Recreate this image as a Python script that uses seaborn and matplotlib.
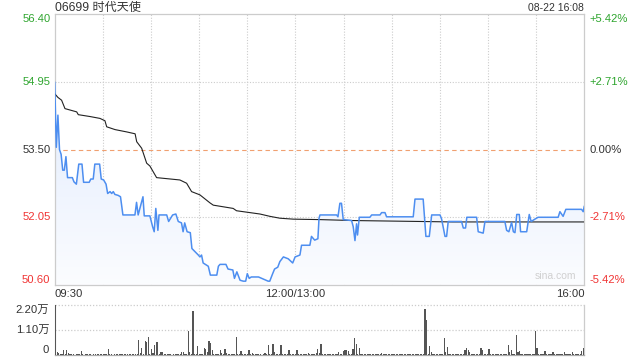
import numpy as np
import pandas as pd
import matplotlib
matplotlib.use("Agg")
import matplotlib.pyplot as plt
import seaborn as sns

# ---------------- data ----------------
title = "06699 时代天使"
stamp = "08-22 16:08"
prev_close = 53.50
price_ticks = [56.40, 54.95, 53.50, 52.05, 50.60]
pct_labels = ["+5.42%", "+2.71%", "0.00%", "-2.71%", "-5.42%"]
time_labels = ["09:30", "12:00/13:00", "16:00"]
vol_tick_labels = ["2.20万", "1.10万", "0"]

# minutes since 09:30 (lunch break removed), price
price_t = [0, 1, 2, 3, 4, 5, 6, 7, 8, 11, 12, 13.5, 15, 17, 18, 21.5, 22.5, 24, 25, 28, 29,
           30.5, 32, 33, 34.5, 35.5, 36.5, 37.5, 39.5, 41, 42.5, 50, 51, 52, 55, 55.8, 59.3,
           61, 62, 63, 64.3, 65, 69.8, 71, 73.5, 75.5, 77, 79, 80, 81, 82.5, 84.5, 85.5,
           87.5, 89.5, 90.5, 91.5, 92.5, 95.7, 97, 101, 102, 103, 106.7, 108, 111, 112,
           113.5, 115.5, 117.5, 119, 120, 121.2, 122.5, 127, 129, 133, 134, 135.8, 137,
           139, 140.3, 142.5, 145.5, 148.3, 149.8, 152.8, 153.8, 159, 160, 162, 164, 164.7,
           165.3, 175.7, 176.5, 177.7, 178.7, 179.8, 185, 186, 187.1, 188.1, 188.7, 189.8,
           196.4, 197.5, 202.7, 203.7, 205.8, 206.8, 223.4, 224.5, 229.6, 231.3, 233.4,
           234.9, 240.1, 241.1, 243.2, 244.2, 245.2, 253.5, 254.6, 256, 256.8, 262.9, 263.9,
           267, 268.1, 280.5, 281.6, 283, 284.7, 285.8, 286.8, 287.9, 289.5, 290.3, 294.1,
           295.7, 296.9, 299.2, 301.2, 313.7, 314.8, 316.8, 318.5, 328.3, 329.3, 330]
price_v = [54.95, 53.55, 54.24, 53.50, 53.40, 53.06, 53.06, 53.35, 52.90, 52.90, 52.81, 52.76,
           53.19, 53.19, 52.80, 52.80, 52.87, 52.87, 53.19, 53.19, 52.87, 52.85, 52.76, 52.56,
           52.60, 52.56, 52.60, 52.54, 52.52, 52.49, 52.10, 52.10, 52.37, 52.10, 52.49, 52.08,
           52.08, 51.85, 51.74, 52.24, 51.77, 52.10, 52.10, 51.96, 52.10, 52.12, 51.96, 51.93,
           51.74, 51.93, 51.74, 51.72, 51.38, 51.31, 51.24, 51.20, 51.24, 51.07, 51.00, 50.81,
           50.81, 51.00, 51.04, 51.04, 50.94, 50.92, 50.74, 50.88, 50.70, 50.68, 50.68, 50.84,
           50.74, 50.77, 50.77, 50.74, 50.68, 50.68, 50.84, 50.94, 50.98, 51.10, 51.20, 51.16,
           51.07, 51.20, 51.24, 51.45, 51.45, 51.64, 51.56, 51.59, 52.03,
           52.10, 52.10, 52.06, 52.35, 52.35, 52.00, 51.98, 51.85, 51.55, 51.91, 51.67, 52.05,
           52.05, 52.10, 52.10, 52.15, 52.15, 52.06, 52.06, 52.44, 52.44, 51.64, 51.64,
           52.10, 52.10, 52.01, 51.64, 51.64, 51.96, 51.96, 51.82, 51.82, 52.05, 52.05, 51.74,
           51.71, 51.96, 51.96, 51.77, 51.74, 51.94, 51.74, 51.72, 52.11, 52.11, 51.74, 51.74,
           52.11, 51.96, 52.01, 52.05, 52.05, 52.17, 52.07, 52.22, 52.22, 52.17, 52.29]

avg_t = [0, 2, 4.3, 6.4, 13.7, 14.7, 22, 28.2, 31.3, 32.4, 37.6, 44.9, 50.1, 51.1, 54.2,
         57.3, 59.3, 63.5, 78, 82.2, 85.3, 90.5, 96.7, 98.8, 111.2, 113.3, 127.9, 134.1,
         140.3, 148.6, 165.3, 186, 248, 330]
avg_v = [54.70, 54.62, 54.56, 54.38, 54.31, 54.25, 54.21, 54.17, 54.12, 53.99, 53.93, 53.88,
         53.84, 53.67, 53.53, 53.21, 53.15, 52.90, 52.85, 52.78, 52.60, 52.53, 52.36, 52.31,
         52.24, 52.19, 52.12, 52.07, 52.03, 52.01, 52.00, 51.98, 51.95, 51.95]

# per-minute volume, unit 万 (10k shares), minutes 0..330
volume = [
    2.40, 0.15, 0.07, 0.03, 0.04, 0.22, 0.06, 0.22, 0.10, 0.04,
    0.03, 0.04, 0.02, 0.03, 0.04, 0.03, 0.18, 0.03, 0.02, 0.04,
    0.03, 0.05, 0.03, 0.02, 0.04, 0.03, 0.06, 0.04, 0.03, 0.05,
    0.04, 0.03, 0.06, 0.25, 0.04, 0.03, 0.02, 0.04, 0.03, 0.05,
    0.03, 0.04, 0.06, 0.03, 0.05, 0.04, 0.03, 0.04, 0.05, 0.03,
    0.04, 0.05, 0.66, 0.10, 0.32, 0.05, 0.62, 0.59, 0.79, 0.05,
    0.25, 0.10, 0.44, 0.57, 0.57, 0.05, 0.12, 0.12, 0.04, 0.03,
    0.05, 0.03, 0.04, 0.02, 0.03, 0.04, 0.03, 0.05, 0.04, 0.12,
    0.15, 0.04, 0.03, 1.06, 0.12, 0.04, 1.94, 0.05, 0.04, 0.40,
    0.05, 0.04, 0.06, 0.29, 0.25, 0.15, 0.62, 0.54, 0.22, 0.05,
    0.04, 0.03, 0.05, 0.22, 0.10, 0.04, 0.26, 0.10, 0.04, 0.03,
    0.04, 0.05, 0.03, 0.79, 0.05, 0.04, 0.18, 0.04, 0.03, 0.05,
    0.04, 0.22, 0.06, 0.10, 0.04, 0.03, 0.05, 0.04, 0.03, 0.02,
    0.04, 0.10, 0.03, 0.44, 0.05, 0.04, 0.48, 0.15, 0.04, 0.03,
    0.05, 0.44, 0.04, 0.03, 0.05, 0.04, 0.22, 0.04, 0.03, 0.05,
    0.04, 0.22, 0.05, 0.04, 0.03, 0.05, 0.04, 0.03, 0.10, 0.04,
    0.05, 0.03, 0.04, 0.10, 0.26, 0.10, 0.48, 0.04, 0.05, 0.03,
    0.04, 0.05, 0.03, 0.04, 0.05, 0.03, 0.04, 0.15, 0.04, 0.05,
    0.18, 0.22, 0.22, 0.18, 0.04, 0.05, 0.26, 0.76, 0.48, 0.05,
    0.31, 0.04, 0.05, 0.03, 0.04, 0.05, 0.04, 0.03, 0.05, 0.04,
    0.03, 0.05, 0.04, 0.03, 0.10, 0.04, 0.05, 0.03, 0.04, 0.03,
    0.05, 0.04, 0.03, 0.04, 0.05, 0.03, 0.04, 0.05, 0.03, 0.04,
    0.05, 0.04, 0.03, 0.05, 0.04, 0.03, 0.04, 0.05, 0.03, 0.04,
    0.05, 2.02, 1.54, 0.05, 0.40, 0.13, 0.04, 0.03, 0.05, 0.04,
    0.03, 0.05, 0.04, 0.75, 0.13, 0.35, 0.04, 0.05, 0.03, 0.04,
    0.05, 0.03, 0.04, 0.05, 0.04, 0.03, 0.22, 0.31, 0.22, 0.13,
    0.04, 0.05, 0.03, 0.04, 0.05, 0.04, 0.29, 0.22, 0.04, 0.05,
    0.03, 0.26, 0.04, 0.05, 0.03, 0.04, 0.05, 0.03, 0.04, 0.05,
    0.04, 0.03, 0.05, 0.44, 0.13, 0.22, 0.04, 0.05, 0.88, 0.13,
    0.18, 0.04, 0.05, 0.03, 0.04, 0.05, 0.03, 0.04, 0.05, 0.04,
    1.06, 0.31, 0.05, 0.04, 0.03, 0.05, 0.18, 0.04, 0.03, 0.05,
    0.04, 0.13, 0.03, 0.05, 0.04, 0.03, 0.05, 0.04, 0.13, 0.03,
    0.05, 0.04, 0.03, 0.13, 0.04, 0.05, 0.03, 0.04, 0.05, 0.18,
    0.29,
]

# ---------------- style ----------------
sns.set_theme(style="white")
FONT = ["Liberation Sans", "Noto Sans CJK SC", "DejaVu Sans"]
plt.rcParams["font.family"] = FONT
plt.rcParams["font.size"] = 7.5
TICK_FS = 8.1

GREEN = "#2ea52e"
RED = "#f03333"
GRID = "#cccccc"
TXT = "#333333"
BLUE = "#4d8ef0"

fig = plt.figure(figsize=(6.4, 3.6), dpi=100)
ax = fig.add_axes([54.7 / 640, 1 - 284.9 / 360, (584.3 - 54.7) / 640, (284.9 - 14.4) / 360])
axv = fig.add_axes([54.7 / 640, 1 - 355 / 360, (584.3 - 54.7) / 640, 50 / 360])

df_p = pd.DataFrame({"t": price_t, "price": price_v})
df_a = pd.DataFrame({"t": avg_t, "avg": avg_v})

ax.set_xlim(0, 330)
ax.set_ylim(price_ticks[-1], price_ticks[0])

# gradient fill under the price line
poly = ax.fill_between(df_p["t"], df_p["price"], price_ticks[-1], color="none", lw=0)
grad = np.linspace(0, 1, 256).reshape(-1, 1)
top_c = np.array([0.85, 0.90, 0.99])
bot_c = np.array([0.985, 0.99, 1.0])
img = top_c * (1 - grad[..., None]) + bot_c * grad[..., None]
im = ax.imshow(img, extent=[0, 330, price_ticks[-1], price_ticks[0]], aspect="auto",
               origin="upper", zorder=1)
im.set_clip_path(poly.get_paths()[0], transform=ax.transData)

# grid
for xv in range(30, 330, 30):
    ax.axvline(xv, color=GRID, lw=0.8, ls=(0, (1, 1.5)), zorder=0.5)
for yv in [price_ticks[1], price_ticks[3]]:
    ax.axhline(yv, color=GRID, lw=0.8, ls=(0, (1, 1.5)), zorder=0.5)
ax.axhline(prev_close, color="#f0a070", lw=0.8, ls=(0, (4, 3)), zorder=0.6)

sns.lineplot(data=df_a, x="t", y="avg", ax=ax, color="#222222", lw=0.8, zorder=3)
sns.lineplot(data=df_p, x="t", y="price", ax=ax, color=BLUE, lw=1.1, zorder=4)

ax.set_xlabel("")
ax.set_ylabel("")
for s in ax.spines.values():
    s.set_color(GRID)
    s.set_linewidth(0.9)

ax.set_yticks(price_ticks)
ax.set_yticklabels([f"{p:.2f}" for p in price_ticks])
ax.tick_params(axis="y", length=0, pad=3, labelsize=TICK_FS)
colors_l = [GREEN, GREEN, TXT, RED, RED]
for lbl, c, va in zip(ax.get_yticklabels(), colors_l, ["top", "center", "center", "center", "bottom"]):
    lbl.set_color(c)
    lbl.set_verticalalignment(va)

ax.set_xticks([0, 150, 330])
ax.set_xticklabels(time_labels)
ax.tick_params(axis="x", length=0, pad=3, colors=TXT, labelsize=TICK_FS)
for lbl, ha in zip(ax.get_xticklabels(), ["left", "center", "right"]):
    lbl.set_horizontalalignment(ha)

ax2 = ax.twinx()
ax2.set_ylim(ax.get_ylim())
ax2.set_yticks(price_ticks)
ax2.set_yticklabels(pct_labels)
ax2.tick_params(axis="y", length=0, pad=4, labelsize=TICK_FS)
for lbl, c, va in zip(ax2.get_yticklabels(), colors_l, ["top", "center", "center", "center", "bottom"]):
    lbl.set_color(c)
    lbl.set_verticalalignment(va)
for s in ax2.spines.values():
    s.set_visible(False)
ax2.grid(False)

ax.text(0.985, 0.015, "sina.com", transform=ax.transAxes, ha="right", va="bottom",
        color="#d0d0d0", fontsize=7.5, zorder=5)

# volume
minutes = np.arange(len(volume))
axv.bar(minutes, volume, width=0.75, color="#555555", linewidth=0, zorder=3)
axv.set_xlim(-0.5, 330.5)
axv.set_ylim(0, 2.2)
axv.axhline(2.2, color=GRID, lw=0.9, ls=(0, (1, 1.5)), clip_on=False)
axv.axhline(1.1, color=GRID, lw=0.9, ls=(0, (1, 1.5)))
axv.spines["top"].set_visible(False)
for k in ["left", "right"]:
    axv.spines[k].set_color(GRID)
    axv.spines[k].set_linewidth(0.9)
axv.spines["bottom"].set_color("#aaaaaa")
axv.spines["bottom"].set_linewidth(0.9)
axv.set_xticks([])
axv.set_yticks([2.2, 1.1, 0])
axv.set_yticklabels(vol_tick_labels)
axv.tick_params(axis="y", length=0, pad=4, colors=TXT, labelsize=TICK_FS)
for lbl, va in zip(axv.get_yticklabels(), ["top", "center", "bottom"]):
    lbl.set_verticalalignment(va)

fig.text(54.7 / 640, 1 - 8 / 360, title, ha="left", va="center", color=TXT, fontsize=8.7)
fig.text(584.3 / 640, 1 - 8 / 360, stamp, ha="right", va="center", color=TXT, fontsize=7.5)

fig.savefig("out.png", dpi=100, facecolor="white")
